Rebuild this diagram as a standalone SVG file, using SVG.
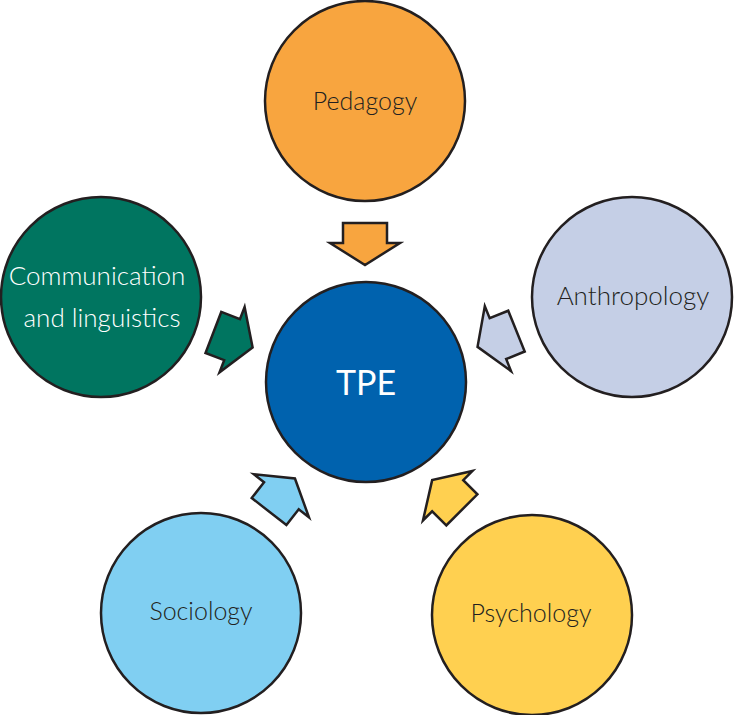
<svg xmlns="http://www.w3.org/2000/svg" width="734" height="715" viewBox="0 0 734 715">
<style>
.c{stroke:#231f20;stroke-width:2.5}
.a{stroke:#231f20;stroke-width:2.5;stroke-linejoin:miter}
.t{font-family:Lato,"Open Sans","Liberation Sans",sans-serif;font-weight:300;font-size:25px;text-anchor:middle}
</style>
<defs>
<polygon id="arr" points="-21,-22 -1,-22 -1,-35 21,0 -1,35 -1,22 -21,22"/>
</defs>
<rect width="734" height="715" fill="#fff"/>
<g id="connectors">
<use href="#arr" class="a" fill="#f8a53f" transform="translate(365,244) rotate(90)"/>
<use href="#arr" class="a" fill="#007560" transform="translate(233,340) rotate(21)"/>
<use href="#arr" class="a" fill="#c5cfe6" transform="translate(497,339) rotate(158)"/>
<use href="#arr" class="a" fill="#80cff2" transform="translate(282,495) rotate(-52)"/>
<use href="#arr" class="a" fill="#ffd050" transform="translate(447,495) rotate(-135)"/>
</g>
<g id="tpe">
<circle class="c" cx="366" cy="382" r="100" fill="#0062ae"/>
<text class="t" x="366" y="395" fill="#fff" style="font-size:34px;font-weight:400">TPE</text>
</g>
<g id="pedagogy">
<circle class="c" cx="365" cy="101" r="100" fill="#f8a53f"/>
<text class="t" x="365" y="110" fill="#231f20">Pedagogy</text>
</g>
<g id="communication">
<circle class="c" cx="101" cy="297" r="100" fill="#007560"/>
<text class="t" x="97" y="285" fill="#fff" style="font-size:26px">Communication</text>
<text class="t" x="102" y="327" fill="#fff" style="font-size:26px">and linguistics</text>
</g>
<g id="anthropology">
<circle class="c" cx="632" cy="297" r="100" fill="#c5cfe6"/>
<text class="t" x="633" y="305" fill="#231f20" style="font-size:26px">Anthropology</text>
</g>
<g id="sociology">
<circle class="c" cx="201" cy="613" r="100" fill="#80cff2"/>
<text class="t" x="201" y="620" fill="#231f20">Sociology</text>
</g>
<g id="psychology">
<circle class="c" cx="532" cy="615" r="100" fill="#ffd050"/>
<text class="t" x="531" y="622" fill="#231f20">Psychology</text>
</g>
</svg>
